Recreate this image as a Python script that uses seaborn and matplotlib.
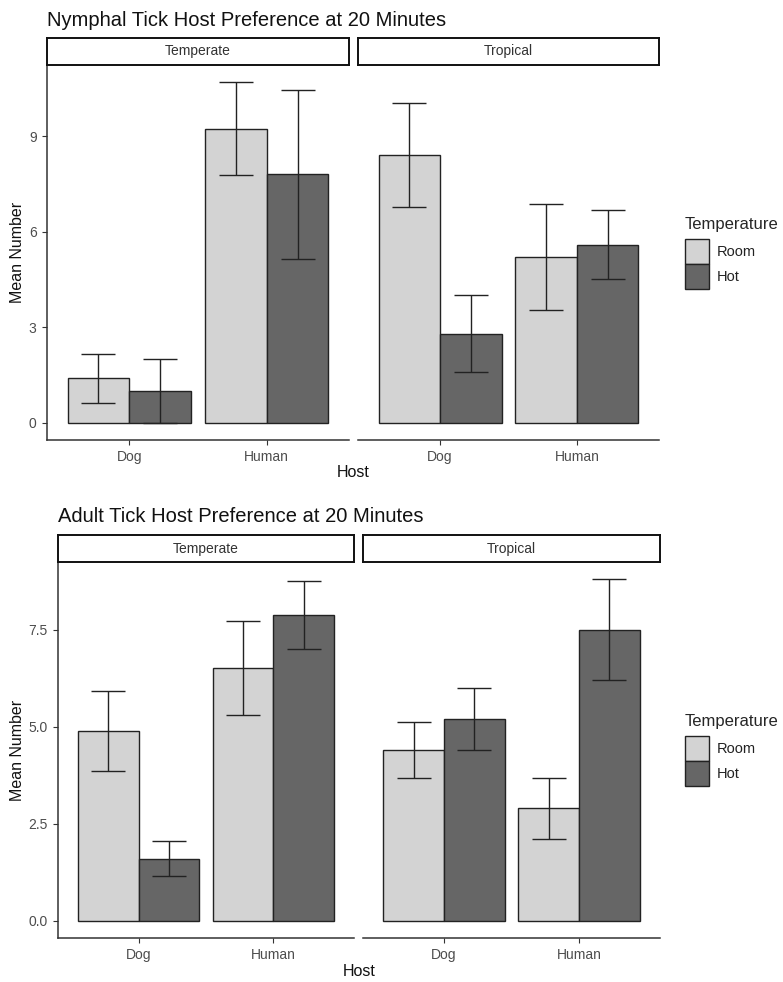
import matplotlib
matplotlib.use("Agg")
import matplotlib.pyplot as plt
from matplotlib.patches import Patch
import seaborn as sns
import pandas as pd

# valores
hosts = ["Dog", "Human"]
temps = ["Room", "Hot"]
regions = ["Temperate", "Tropical"]

# ordem: Temperate (Dog Room, Dog Hot, Human Room, Human Hot), depois Tropical
nymph_mean = [1.4, 1.0, 9.24, 7.8, 8.4, 2.8, 5.2, 5.6]
nymph_se = [0.76, 1.0, 1.46, 2.65, 1.63, 1.21, 1.67, 1.08]
adult_mean = [4.9, 1.6, 6.5, 7.88, 4.4, 5.2, 2.9, 7.5]
adult_se = [1.03, 0.45, 1.21, 0.88, 0.73, 0.79, 0.78, 1.3]

nymph_ticks = [0, 3, 6, 9]
nymph_ticklabels = ["0", "3", "6", "9"]
adult_ticks = [0, 2.5, 5.0, 7.5]
adult_ticklabels = ["0.0", "2.5", "5.0", "7.5"]

colors = {"Room": "#D3D3D3", "Hot": "#666666"}

W, H = 783, 982
sns.set_style("white")
plt.rcParams["font.family"] = ["Liberation Sans", "DejaVu Sans"]

fig = plt.figure(figsize=(W / 100, H / 100), dpi=100)


def px_axes(x0, y0, x1, y1):
    # cria eixos a partir de coordenadas em pixels (origem no topo)
    return fig.add_axes([x0 / W, 1 - y1 / H, (x1 - x0) / W, (y1 - y0) / H])


def make_df(mean, se):
    rows = [(r, h, t) for r in regions for h in hosts for t in temps]
    df = pd.DataFrame(rows, columns=["Region", "Host", "Temperature"])
    df["Mean"] = mean
    df["SE"] = se
    return df


def draw_chart(df, title, ticks, ticklabels, lay):
    top = (df["Mean"] + df["SE"]).max()
    pad = 0.05 * top

    for i, region in enumerate(regions):
        x0, x1 = lay["panels"][i]
        ax = px_axes(x0, lay["panel_y"][0], x1, lay["panel_y"][1])
        sub = df[df["Region"] == region]
        sns.barplot(
            data=sub, x="Host", y="Mean", hue="Temperature",
            order=hosts, hue_order=temps, palette=colors,
            width=0.9, errorbar=None, edgecolor="#222222",
            linewidth=1.0, legend=False, ax=ax,
        )
        # barras de erro centradas em cada barra
        for cont, t in zip(ax.containers, temps):
            xs = [b.get_x() + b.get_width() / 2 for b in cont]
            s = sub[sub["Temperature"] == t].set_index("Host").loc[hosts]
            ax.errorbar(xs, s["Mean"], yerr=s["SE"], fmt="none",
                        ecolor="#222222", elinewidth=1.0, capsize=12.5,
                        capthick=1.0)

        ax.set_xlim(-0.6, 1.6)
        ax.set_ylim(-pad, top + pad)
        ax.set_xlabel("")
        ax.set_ylabel("")
        ax.set_yticks(ticks)
        ax.set_yticklabels(ticklabels)
        for side in ["top", "right"]:
            ax.spines[side].set_visible(False)
        ax.spines["bottom"].set_color("#333333")
        ax.spines["bottom"].set_linewidth(1.1)
        ax.tick_params(axis="both", colors="#333333", length=3.5, width=0.8,
                       labelsize=10, labelcolor="#4D4D4D", pad=4)
        ax.tick_params(axis="x", bottom=True)
        if i == 0:
            ax.spines["left"].set_color("#333333")
            ax.spines["left"].set_linewidth(1.1)
            ax.tick_params(axis="y", left=True)
        else:
            ax.spines["left"].set_visible(False)
            ax.tick_params(axis="y", left=False, labelleft=False)

        # faixa do facet
        st = px_axes(x0, lay["strip_y"][0], x1, lay["strip_y"][1])
        st.set_xticks([])
        st.set_yticks([])
        for sp in st.spines.values():
            sp.set_color("#111111")
            sp.set_linewidth(1.4)
        st.text(0.5, 0.5, region, ha="center", va="center",
                fontsize=10, color="#333333", transform=st.transAxes)

    fig.text(lay["title"][0] / W, 1 - lay["title"][1] / H, title,
             fontsize=14.5, color="#111111", ha="left", va="center")
    yc = (lay["panel_y"][0] + lay["panel_y"][1]) / 2
    fig.text(18 / W, 1 - yc / H, "Mean Number", rotation=90,
             fontsize=11.5, color="#111111", ha="center", va="center")
    xc = (lay["panels"][0][0] + lay["panels"][1][1]) / 2
    fig.text(xc / W, 1 - lay["host_y"] / H, "Host",
             fontsize=11.5, color="#111111", ha="center", va="center")

    handles = [Patch(facecolor=colors[t], edgecolor="#222222", linewidth=1.0)
               for t in temps]
    leg = fig.legend(handles, temps, title="Temperature", loc="upper left",
                     bbox_to_anchor=(lay["legend"][0] / W, 1 - lay["legend"][1] / H),
                     frameon=False, fontsize=10.5, title_fontsize=12,
                     handlelength=1.64, handleheight=2.25, labelspacing=0,
                     handletextpad=0.57, borderpad=0, borderaxespad=0,
                     alignment="left")
    leg._legend_box.sep = 5  # espaço entre título e chaves
    for txt in leg.get_texts():
        txt.set_color("#222222")


nymph_layout = {
    "panels": [(47, 349), (358, 659)],
    "panel_y": (65, 440),
    "strip_y": (38, 65),
    "title": (47, 20),
    "host_y": 472,
    "legend": (685, 217),
}
adult_layout = {
    "panels": [(58, 354), (363, 660)],
    "panel_y": (562, 938),
    "strip_y": (535, 562),
    "title": (58, 517),
    "host_y": 971,
    "legend": (685, 714),
}

draw_chart(make_df(nymph_mean, nymph_se),
           "Nymphal Tick Host Preference at 20 Minutes",
           nymph_ticks, nymph_ticklabels, nymph_layout)
draw_chart(make_df(adult_mean, adult_se),
           "Adult Tick Host Preference at 20 Minutes",
           adult_ticks, adult_ticklabels, adult_layout)

fig.savefig("out.png", dpi=100, facecolor="white")
